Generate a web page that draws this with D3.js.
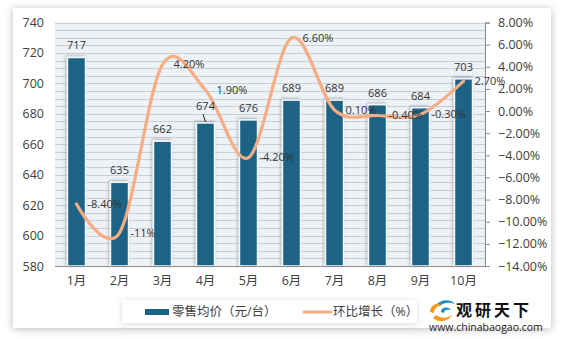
<!DOCTYPE html>
<html><head><meta charset="utf-8">
<script src="https://cdn.jsdelivr.net/npm/d3@7/dist/d3.min.js"></script>
<style>
html,body{margin:0;padding:0;background:#fff;}
svg{display:block;}
text{font-family:"Open Sans","Noto Sans CJK SC",sans-serif;}
</style></head>
<body>
<svg id="c" width="568" height="339"></svg>
<script>
const categories = ["1月","2月","3月","4月","5月","6月","7月","8月","9月","10月"];
const priceValues = [717,635,662,674,676,689,689,686,684,703];
const growthValues = [-8.4,-11,4.2,1.9,-4.2,6.6,0.1,-0.4,-0.3,2.7];
const growthLabels = ["-8.40%","-11%","4.20%","1.90%","-4.20%","6.60%","0.10%","-0.40%","-0.30%","2.70%"];
const leftTicks = [580,600,620,640,660,680,700,720,740];
const rightTicks = [-14,-12,-10,-8,-6,-4,-2,0,2,4,6,8];
const seriesNames = ["零售均价（元/台）","环比增长（%）"];

const svg = d3.select("#c");
const defs = svg.append("defs");
const f = defs.append("filter").attr("id","sh").attr("x","-10%").attr("y","-10%").attr("width","120%").attr("height","120%");
f.append("feDropShadow").attr("dx",0).attr("dy",1).attr("stdDeviation",4).attr("flood-color","#000").attr("flood-opacity",0.28);
const fb = defs.append("filter").attr("id","bsh").attr("x","-50%").attr("y","-20%").attr("width","200%").attr("height","140%");
fb.append("feDropShadow").attr("dx",-1).attr("dy",-1).attr("stdDeviation",1.5).attr("flood-color","#000").attr("flood-opacity",0.3);
const fl = defs.append("filter").attr("id","lsh").attr("x","-10%").attr("y","-40%").attr("width","120%").attr("height","180%");
fl.append("feDropShadow").attr("dx",0).attr("dy",1).attr("stdDeviation",3).attr("flood-color","#000").attr("flood-opacity",0.15);

// card
svg.append("rect").attr("x",13).attr("y",8).attr("width",538).attr("height",320).attr("fill","#fff").attr("filter","url(#sh)");

const L=55,R=485,T=22.5,B=266;
const x = d3.scaleBand().domain(categories).range([L,R]).paddingInner(0.58).paddingOuter(0.29);
const yL = d3.scaleLinear().domain([580,740]).range([B,T]);
const yR = d3.scaleLinear().domain([-14,8]).range([B,T]);

// plot bg
svg.append("rect").attr("x",L).attr("y",T).attr("width",R-L).attr("height",B-T).attr("fill","#edf2f7");
const gridVals = d3.range(580,741,5);
svg.append("g").selectAll("line").data(gridVals).join("line")
  .attr("x1",L).attr("x2",R).attr("y1",d=>Math.round(yL(d))+0.5).attr("y2",d=>Math.round(yL(d))+0.5)
  .attr("stroke","#c9ced4").attr("stroke-width",1);

// bars
const cx = d=>x(d)+x.bandwidth()/2;
svg.append("g").selectAll("rect").data(categories).join("rect")
  .attr("x",d=>x(d)).attr("width",x.bandwidth())
  .attr("y",(d,i)=>yL(priceValues[i])).attr("height",(d,i)=>B-yL(priceValues[i]))
  .attr("fill","#1b6486").attr("stroke","#f4f8fb").attr("stroke-width",1.5).attr("filter","url(#bsh)");

// axes
svg.append("line").attr("x1",L).attr("x2",R).attr("y1",B+0.5).attr("y2",B+0.5).attr("stroke","#8c8c8c");
const ra = svg.append("g").attr("transform",`translate(${R},0)`)
  .call(d3.axisRight(yR).tickValues(rightTicks).tickSize(5).tickPadding(8).tickFormat(d=>d3.format(".2f")(d)+"%"));
ra.select(".domain").attr("stroke","#8c8c8c");
ra.selectAll(".tick line").attr("stroke","#8c8c8c");
ra.selectAll("text").attr("font-size",12.5).attr("fill","#404040").attr("font-family","'Open Sans',sans-serif");

const la = svg.append("g").attr("transform",`translate(${L},0)`)
  .call(d3.axisLeft(yL).tickValues(leftTicks).tickSize(0).tickPadding(11));
la.select(".domain").remove();
la.selectAll("text").attr("font-size",12.5).attr("fill","#404040").attr("font-family","'Open Sans',sans-serif");

const xa = svg.append("g").attr("transform",`translate(0,${B})`)
  .call(d3.axisBottom(x).tickSize(0).tickPadding(10));
xa.select(".domain").remove();
xa.selectAll("text").attr("font-size",12.5).attr("fill","#404040").attr("font-family","'Open Sans','Noto Sans CJK SC',sans-serif");

// line
const line = d3.line().x((d,i)=>cx(categories[i])).y(d=>yR(d)).curve(d3.curveCardinal.tension(0));
svg.append("path").datum(growthValues).attr("d",line).attr("fill","none")
  .attr("stroke","#f6ad84").attr("stroke-width",3.2).attr("stroke-linecap","round");

// bar labels
svg.append("g").selectAll("text").data(categories).join("text")
  .attr("x",d=>cx(d)).attr("y",(d,i)=>yL(priceValues[i])-(i===3?17:12))
  .attr("dy","0.35em").attr("text-anchor","middle").attr("font-size",11).attr("fill","#333")
  .text((d,i)=>priceValues[i]);
// leader line for 674
svg.append("line").attr("x1",cx(categories[3])-2.5).attr("y1",yL(priceValues[3])-9)
  .attr("x2",cx(categories[3])).attr("y2",yL(priceValues[3])-1).attr("stroke","#222").attr("stroke-width",1);

// line labels
svg.append("g").selectAll("text").data(categories).join("text")
  .attr("x",d=>cx(d)+11).attr("y",(d,i)=>yR(growthValues[i]))
  .attr("dy","0.35em").attr("font-size",11).attr("fill","#333")
  .text((d,i)=>growthLabels[i]);

// legend
svg.append("rect").attr("x",122).attr("y",300).attr("width",295).attr("height",23).attr("fill","#fff").attr("filter","url(#lsh)");
svg.append("rect").attr("x",145).attr("y",309).attr("width",24).attr("height",6).attr("fill","#1b6486");
svg.append("text").attr("x",172).attr("y",312).attr("dy","0.35em").attr("font-size",12.5).attr("fill","#404040")
  .attr("font-family","'Noto Sans CJK SC',sans-serif").text(seriesNames[0]);
svg.append("line").attr("x1",304).attr("x2",331).attr("y1",312).attr("y2",312).attr("stroke","#f6ad84").attr("stroke-width",3.2).attr("stroke-linecap","round");
svg.append("text").attr("x",333).attr("y",312).attr("dy","0.35em").attr("font-size",12.5).attr("fill","#404040")
  .attr("font-family","'Noto Sans CJK SC',sans-serif").text(seriesNames[1]);

// logo
const lg = svg.append("g");
lg.append("path").attr("d","M436,305 C441,299 451,299 455,304 C450,302 444,302 440,306 Z").attr("fill","#1f8fc0");
lg.append("path").attr("d","M430,312 C430,305 437,302 442,304 C437,306 434,309 434,313 Z").attr("fill","#f39a1e");
lg.append("path").attr("d","M433,318 C438,323 448,322 452,315 C448,318 441,319 436,315 Z").attr("fill","#f39a1e");
lg.append("path").attr("d","M441,312 C441,307 448,306 451,310 C447,309 444,310 444,313 Z").attr("fill","#1f8fc0");
lg.append("text").attr("x",456).attr("y",310).attr("dy","0.35em").attr("font-size",16).attr("font-weight","bold")
  .attr("fill","#111").attr("letter-spacing",3).attr("font-family","'Noto Sans CJK SC',sans-serif").text("观研天下");
lg.append("text").attr("x",429).attr("y",327).attr("dy","0.35em").attr("font-size",10.5).attr("fill","#222")
  .attr("font-family","'Liberation Sans',Arial,sans-serif").text("www.chinabaogao.com");
</script>
</body></html>
